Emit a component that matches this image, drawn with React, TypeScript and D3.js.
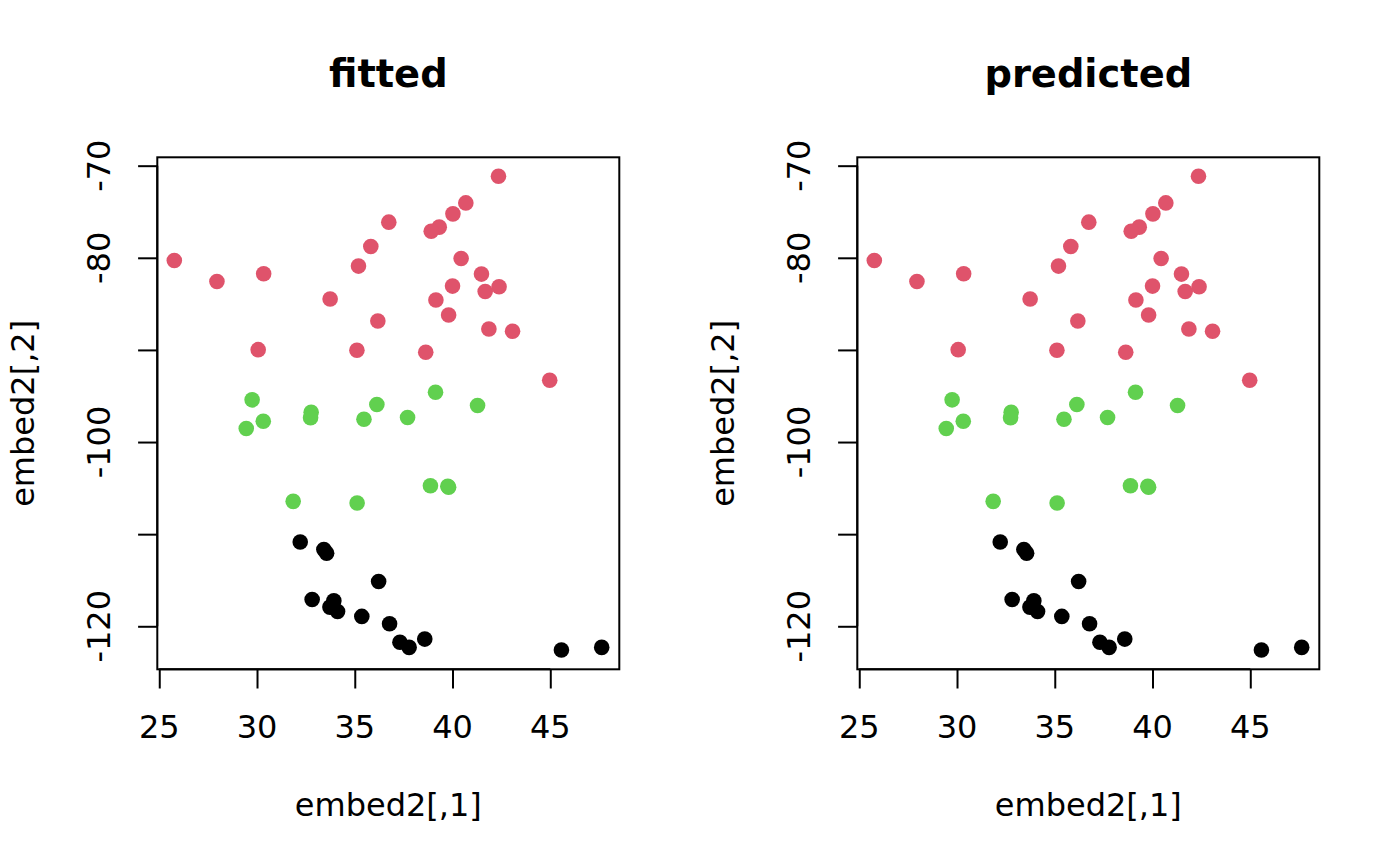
// import d3 for the scales and axes
import * as d3 from "d3";
import { useRef, useEffect } from "react";

// group 1 (red) points: embed2[,1] / embed2[,2]
const redX = [42.35, 40.68, 40.02, 36.74, 39.32, 38.91, 35.82, 25.77, 40.44, 35.19, 30.34, 41.48, 27.95,
  42.38, 41.67, 40.0, 33.74, 39.15, 39.8, 36.18, 41.86, 43.07, 30.06, 35.11, 38.63, 44.97];
const redY = [-71.15, -74.04, -75.23, -76.13, -76.67, -77.11, -78.78, -80.29, -80.08, -80.9, -81.73, -81.77, -82.57,
  -83.14, -83.65, -83.07, -84.47, -84.58, -86.21, -86.86, -87.73, -87.98, -89.97, -90.04, -90.26, -93.29];

// group 2 (green) points
const greenX = [29.75, 30.32, 29.45, 32.77, 32.74, 36.13, 35.47, 37.7, 39.13, 41.28, 38.87, 39.76, 39.8, 31.85, 35.12];
const greenY = [-95.42, -97.74, -98.53, -96.76, -97.37, -95.93, -97.52, -97.34, -94.59, -96.03, -104.74, -104.81, -104.9, -106.44, -106.62];

// group 3 (black) points
const blackX = [32.21, 33.42, 33.56, 36.22, 32.82, 33.93, 33.73, 34.12, 35.36, 36.78, 37.31, 37.78, 38.58, 45.57, 47.63];
const blackY = [-110.85, -111.67, -112.07, -115.14, -117.09, -117.24, -117.92, -118.39, -118.93, -119.73, -121.74, -122.29, -121.39, -122.58, -122.29];

// tick values and the labels R kept (overlapping ones are dropped)
const xTicks = [25, 30, 35, 40, 45];
const yTicks = [-70, -80, -90, -100, -110, -120];
const yTickLabels = ["-70", "-80", "", "-100", "", "-120"];

const panelTitles = ["fitted", "predicted"];
const xLabel = "embed2[,1]";
const yLabel = "embed2[,2]";

export default function App() {
  const svgRef = useRef<SVGSVGElement>(null);

  useEffect(() => {
    const svg = d3.select(svgRef.current);
    svg.selectAll("*").remove();

    const font = "'DejaVu Sans', sans-serif";
    const panelW = 700;
    const margin = { top: 157.3, right: 80.7, bottom: 196.7, left: 157.3 };
    const height = 866;

    const groups = [
      { xs: redX, ys: redY, color: "#DF536B" },
      { xs: greenX, ys: greenY, color: "#61D04F" },
      { xs: blackX, ys: blackY, color: "#000000" },
    ];

    panelTitles.forEach((title, p) => {
      const g = svg.append("g").attr("transform", `translate(${p * panelW},0)`);

      const x = d3.scaleLinear().domain([24.9, 48.53]).range([margin.left, panelW - margin.right]);
      const y = d3.scaleLinear().domain([-124.67, -69.09]).range([height - margin.bottom, margin.top]);

      // points
      groups.forEach(grp => {
        g.append("g")
          .selectAll("circle")
          .data(grp.xs.map((v, i) => [v, grp.ys[i]]))
          .enter()
          .append("circle")
          .attr("cx", d => x(d[0]))
          .attr("cy", d => y(d[1]))
          .attr("r", 7.8)
          .attr("fill", grp.color);
      });

      // box
      g.append("rect")
        .attr("x", margin.left)
        .attr("y", margin.top)
        .attr("width", panelW - margin.left - margin.right)
        .attr("height", height - margin.top - margin.bottom)
        .attr("fill", "none")
        .attr("stroke", "#000")
        .attr("stroke-width", 2);

      // x axis
      const xAxis = g.append("g")
        .attr("transform", `translate(0,${height - margin.bottom})`)
        .call(d3.axisBottom(x).tickValues(xTicks).tickSize(19.2).tickPadding(0).tickFormat(() => ""));
      xAxis.select(".domain").attr("d", `M${x(25)},0H${x(45)}`).attr("stroke-width", 2);
      xAxis.selectAll(".tick line").attr("stroke-width", 2);
      g.selectAll(".xlab")
        .data(xTicks)
        .enter()
        .append("text")
        .attr("x", d => x(d))
        .attr("y", 738.3)
        .attr("text-anchor", "middle")
        .style("font-family", font)
        .style("font-size", "32px")
        .text(d => String(d));

      // y axis
      const yAxis = g.append("g")
        .attr("transform", `translate(${margin.left},0)`)
        .call(d3.axisLeft(y).tickValues(yTicks).tickSize(19.2).tickPadding(0).tickFormat(() => ""));
      yAxis.select(".domain").attr("d", `M0,${y(-70)}V${y(-120)}`).attr("stroke-width", 2);
      yAxis.selectAll(".tick line").attr("stroke-width", 2);
      g.selectAll(".ylab")
        .data(yTicks)
        .enter()
        .append("text")
        .attr("transform", d => `translate(110,${y(d)}) rotate(-90)`)
        .attr("text-anchor", "middle")
        .style("font-family", font)
        .style("font-size", "32px")
        .text((d, i) => yTickLabels[i]);

      // axis titles
      g.append("text")
        .attr("x", (margin.left + panelW - margin.right) / 2)
        .attr("y", 815.7)
        .attr("text-anchor", "middle")
        .style("font-family", font)
        .style("font-size", "32px")
        .text(xLabel);
      g.append("text")
        .attr("transform", `translate(33.5,${(margin.top + height - margin.bottom) / 2}) rotate(-90)`)
        .attr("text-anchor", "middle")
        .style("font-family", font)
        .style("font-size", "32px")
        .text(yLabel);

      // panel title
      g.append("text")
        .attr("x", (margin.left + panelW - margin.right) / 2)
        .attr("y", 87.3)
        .attr("text-anchor", "middle")
        .style("font-family", font)
        .style("font-size", "38.4px")
        .style("font-weight", "bold")
        .text(title);
    });
  }, []);

  return (
    <svg
      ref={svgRef}
      width={1400}
      height={866}
      style={{ position: "absolute", left: 0, top: 0, background: "#fff" }}
    />
  );
}
